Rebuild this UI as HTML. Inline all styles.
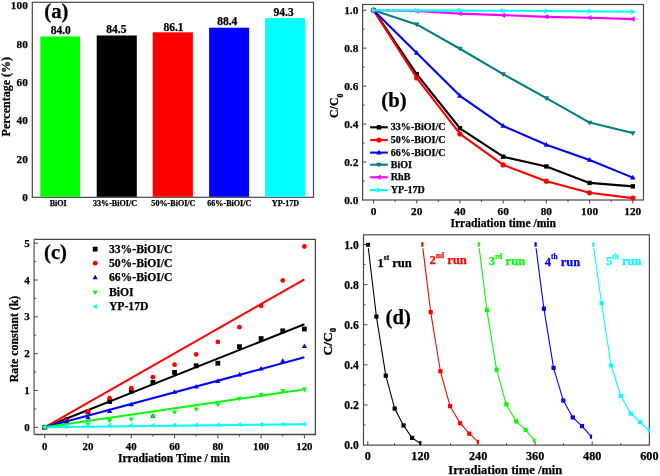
<!DOCTYPE html>
<html><head><meta charset="utf-8"><style>
html,body{margin:0;padding:0;background:#fff;}
body{width:660px;height:476px;overflow:hidden;}
svg{display:block;font-family:"Liberation Serif", serif;filter:blur(0.3px);}
text{stroke-width:0.25px;}
</style></head><body>
<svg width="660" height="476" viewBox="0 0 660 476">
<rect width="660" height="476" fill="#fff"/>
<rect x="32.3" y="2.3" width="281.2" height="195.0" fill="none" stroke="#484848" stroke-width="1.2"/>
<text x="27.80" y="9.40" font-size="11.3" text-anchor="end" fill="#000" stroke="#000" font-weight="bold" >100</text>
<text x="27.80" y="47.70" font-size="11.3" text-anchor="end" fill="#000" stroke="#000" font-weight="bold" >80</text>
<text x="27.80" y="86.00" font-size="11.3" text-anchor="end" fill="#000" stroke="#000" font-weight="bold" >60</text>
<text x="27.80" y="124.30" font-size="11.3" text-anchor="end" fill="#000" stroke="#000" font-weight="bold" >40</text>
<text x="27.80" y="162.60" font-size="11.3" text-anchor="end" fill="#000" stroke="#000" font-weight="bold" >20</text>
<text x="27.80" y="200.90" font-size="11.3" text-anchor="end" fill="#000" stroke="#000" font-weight="bold" >0</text>
<rect x="40.30" y="36.50" width="39.70" height="160.30" fill="#00ff00"/>
<text x="60.70" y="33.90" font-size="11.5" text-anchor="middle" fill="#000" stroke="#000" font-weight="bold" >84.0</text>
<text x="58.20" y="206.30" font-size="8.1" text-anchor="middle" fill="#000" stroke="#000" font-weight="bold" >BiOI</text>
<rect x="96.70" y="35.50" width="40.10" height="161.30" fill="#000000"/>
<text x="116.40" y="33.00" font-size="11.5" text-anchor="middle" fill="#000" stroke="#000" font-weight="bold" >84.5</text>
<text x="115.00" y="206.30" font-size="8.1" text-anchor="middle" fill="#000" stroke="#000" font-weight="bold" >33%-BiOI/C</text>
<rect x="152.70" y="32.30" width="40.20" height="164.50" fill="#ff0000"/>
<text x="173.50" y="30.50" font-size="11.5" text-anchor="middle" fill="#000" stroke="#000" font-weight="bold" >86.1</text>
<text x="173.40" y="206.30" font-size="8.1" text-anchor="middle" fill="#000" stroke="#000" font-weight="bold" >50%-BiOI/C</text>
<rect x="209.10" y="27.70" width="40.00" height="169.10" fill="#0000ff"/>
<text x="227.30" y="25.40" font-size="11.5" text-anchor="middle" fill="#000" stroke="#000" font-weight="bold" >88.4</text>
<text x="229.30" y="206.30" font-size="8.1" text-anchor="middle" fill="#000" stroke="#000" font-weight="bold" >66%-BiOI/C</text>
<rect x="265.10" y="18.10" width="40.10" height="178.70" fill="#00ffff"/>
<text x="283.60" y="15.90" font-size="11.5" text-anchor="middle" fill="#000" stroke="#000" font-weight="bold" >94.3</text>
<text x="285.50" y="206.30" font-size="8.1" text-anchor="middle" fill="#000" stroke="#000" font-weight="bold" >YP-17D</text>
<text x="44.30" y="18.40" font-size="20.7" text-anchor="start" fill="#000" stroke="#000" font-weight="bold" >(a)</text>
<text transform="translate(9.8,96.7) rotate(-90)" font-size="12" text-anchor="middle" font-weight="bold" stroke="#000">Percentage (%)</text>
<rect x="362.6" y="4.5" width="280.9" height="195.5" fill="none" stroke="#484848" stroke-width="1.2"/>
<line x1="362.60" y1="181.02" x2="364.60" y2="181.02" stroke="#484848" stroke-width="1" />
<line x1="362.60" y1="162.04" x2="366.60" y2="162.04" stroke="#484848" stroke-width="1" />
<line x1="362.60" y1="143.06" x2="364.60" y2="143.06" stroke="#484848" stroke-width="1" />
<line x1="362.60" y1="124.08" x2="366.60" y2="124.08" stroke="#484848" stroke-width="1" />
<line x1="362.60" y1="105.10" x2="364.60" y2="105.10" stroke="#484848" stroke-width="1" />
<line x1="362.60" y1="86.12" x2="366.60" y2="86.12" stroke="#484848" stroke-width="1" />
<line x1="362.60" y1="67.14" x2="364.60" y2="67.14" stroke="#484848" stroke-width="1" />
<line x1="362.60" y1="48.16" x2="366.60" y2="48.16" stroke="#484848" stroke-width="1" />
<line x1="362.60" y1="29.18" x2="364.60" y2="29.18" stroke="#484848" stroke-width="1" />
<line x1="362.60" y1="10.20" x2="366.60" y2="10.20" stroke="#484848" stroke-width="1" />
<text x="358.40" y="203.80" font-size="11.4" text-anchor="end" fill="#000" stroke="#000" font-weight="bold" >0.0</text>
<text x="358.40" y="165.84" font-size="11.4" text-anchor="end" fill="#000" stroke="#000" font-weight="bold" >0.2</text>
<text x="358.40" y="127.88" font-size="11.4" text-anchor="end" fill="#000" stroke="#000" font-weight="bold" >0.4</text>
<text x="358.40" y="89.92" font-size="11.4" text-anchor="end" fill="#000" stroke="#000" font-weight="bold" >0.6</text>
<text x="358.40" y="51.96" font-size="11.4" text-anchor="end" fill="#000" stroke="#000" font-weight="bold" >0.8</text>
<text x="358.40" y="14.00" font-size="11.4" text-anchor="end" fill="#000" stroke="#000" font-weight="bold" >1.0</text>
<line x1="373.50" y1="200.00" x2="373.50" y2="203.50" stroke="#484848" stroke-width="1" />
<line x1="395.11" y1="200.00" x2="395.11" y2="202.00" stroke="#484848" stroke-width="1" />
<line x1="416.72" y1="200.00" x2="416.72" y2="203.50" stroke="#484848" stroke-width="1" />
<line x1="438.32" y1="200.00" x2="438.32" y2="202.00" stroke="#484848" stroke-width="1" />
<line x1="459.93" y1="200.00" x2="459.93" y2="203.50" stroke="#484848" stroke-width="1" />
<line x1="481.54" y1="200.00" x2="481.54" y2="202.00" stroke="#484848" stroke-width="1" />
<line x1="503.15" y1="200.00" x2="503.15" y2="203.50" stroke="#484848" stroke-width="1" />
<line x1="524.76" y1="200.00" x2="524.76" y2="202.00" stroke="#484848" stroke-width="1" />
<line x1="546.37" y1="200.00" x2="546.37" y2="203.50" stroke="#484848" stroke-width="1" />
<line x1="567.98" y1="200.00" x2="567.98" y2="202.00" stroke="#484848" stroke-width="1" />
<line x1="589.58" y1="200.00" x2="589.58" y2="203.50" stroke="#484848" stroke-width="1" />
<line x1="611.19" y1="200.00" x2="611.19" y2="202.00" stroke="#484848" stroke-width="1" />
<line x1="632.80" y1="200.00" x2="632.80" y2="203.50" stroke="#484848" stroke-width="1" />
<text x="373.50" y="215.00" font-size="11.3" text-anchor="middle" fill="#000" stroke="#000" font-weight="bold" >0</text>
<text x="416.72" y="215.00" font-size="11.3" text-anchor="middle" fill="#000" stroke="#000" font-weight="bold" >20</text>
<text x="459.93" y="215.00" font-size="11.3" text-anchor="middle" fill="#000" stroke="#000" font-weight="bold" >40</text>
<text x="503.15" y="215.00" font-size="11.3" text-anchor="middle" fill="#000" stroke="#000" font-weight="bold" >60</text>
<text x="546.37" y="215.00" font-size="11.3" text-anchor="middle" fill="#000" stroke="#000" font-weight="bold" >80</text>
<text x="589.58" y="215.00" font-size="11.3" text-anchor="middle" fill="#000" stroke="#000" font-weight="bold" >100</text>
<text x="632.80" y="215.00" font-size="11.3" text-anchor="middle" fill="#000" stroke="#000" font-weight="bold" >120</text>
<text x="503.20" y="227.20" font-size="11.6" text-anchor="middle" fill="#000" stroke="#000" font-weight="bold" >Irradiation time /min</text>
<text transform="translate(338.3,117.9) rotate(-90)" font-size="11.8" font-weight="bold" stroke="#000" style="stroke-width:0.3px" text-anchor="start">C/C<tspan font-size="7.8" dy="4.2">0</tspan></text>
<text x="381.30" y="107.20" font-size="20.7" text-anchor="start" fill="#000" stroke="#000" font-weight="bold" >(b)</text>
<polyline points="373.50,10.20 416.72,74.16 459.93,128.26 503.15,156.73 546.37,166.41 589.58,182.92 632.80,186.33" fill="none" stroke="#000000" stroke-width="2.1" stroke-linejoin="round" />
<rect x="371.30" y="8.00" width="4.40" height="4.40" fill="#000000"/>
<rect x="414.52" y="71.96" width="4.40" height="4.40" fill="#000000"/>
<rect x="457.73" y="126.06" width="4.40" height="4.40" fill="#000000"/>
<rect x="500.95" y="154.53" width="4.40" height="4.40" fill="#000000"/>
<rect x="544.17" y="164.21" width="4.40" height="4.40" fill="#000000"/>
<rect x="587.38" y="180.72" width="4.40" height="4.40" fill="#000000"/>
<rect x="630.60" y="184.13" width="4.40" height="4.40" fill="#000000"/>
<polyline points="373.50,10.20 416.72,77.96 459.93,133.95 503.15,164.89 546.37,181.21 589.58,192.79 632.80,198.10" fill="none" stroke="#ff0000" stroke-width="2.1" stroke-linejoin="round" />
<circle cx="373.50" cy="10.20" r="2.60" fill="#ff0000"/>
<circle cx="416.72" cy="77.96" r="2.60" fill="#ff0000"/>
<circle cx="459.93" cy="133.95" r="2.60" fill="#ff0000"/>
<circle cx="503.15" cy="164.89" r="2.60" fill="#ff0000"/>
<circle cx="546.37" cy="181.21" r="2.60" fill="#ff0000"/>
<circle cx="589.58" cy="192.79" r="2.60" fill="#ff0000"/>
<circle cx="632.80" cy="198.10" r="2.60" fill="#ff0000"/>
<polyline points="373.50,10.20 416.72,52.91 459.93,95.80 503.15,125.98 546.37,144.77 589.58,159.95 632.80,177.60" fill="none" stroke="#0000ff" stroke-width="2.1" stroke-linejoin="round" />
<polygon points="373.50,7.32 370.75,12.07 376.25,12.07" fill="#0000ff"/>
<polygon points="416.72,50.03 413.97,54.78 419.47,54.78" fill="#0000ff"/>
<polygon points="459.93,92.92 457.18,97.67 462.68,97.67" fill="#0000ff"/>
<polygon points="503.15,123.10 500.40,127.85 505.90,127.85" fill="#0000ff"/>
<polygon points="546.37,141.89 543.62,146.64 549.12,146.64" fill="#0000ff"/>
<polygon points="589.58,157.08 586.83,161.83 592.33,161.83" fill="#0000ff"/>
<polygon points="632.80,174.73 630.05,179.48 635.55,179.48" fill="#0000ff"/>
<polyline points="373.50,10.20 416.72,24.43 459.93,48.73 503.15,74.16 546.37,98.08 589.58,122.56 632.80,133.00" fill="none" stroke="#008080" stroke-width="2.1" stroke-linejoin="round" />
<polygon points="373.50,13.07 370.75,8.32 376.25,8.32" fill="#008080"/>
<polygon points="416.72,27.31 413.97,22.56 419.47,22.56" fill="#008080"/>
<polygon points="459.93,51.60 457.18,46.85 462.68,46.85" fill="#008080"/>
<polygon points="503.15,77.04 500.40,72.29 505.90,72.29" fill="#008080"/>
<polygon points="546.37,100.95 543.62,96.20 549.12,96.20" fill="#008080"/>
<polygon points="589.58,125.44 586.83,120.69 592.33,120.69" fill="#008080"/>
<polygon points="632.80,135.88 630.05,131.13 635.55,131.13" fill="#008080"/>
<polyline points="373.50,10.20 416.72,10.96 459.93,13.62 503.15,15.13 546.37,16.84 589.58,17.79 632.80,19.12" fill="none" stroke="#ff00ff" stroke-width="2.1" stroke-linejoin="round" />
<polygon points="370.62,10.20 375.38,7.45 375.38,12.95" fill="#ff00ff"/>
<polygon points="413.84,10.96 418.59,8.21 418.59,13.71" fill="#ff00ff"/>
<polygon points="457.06,13.62 461.81,10.87 461.81,16.37" fill="#ff00ff"/>
<polygon points="500.27,15.13 505.02,12.38 505.02,17.88" fill="#ff00ff"/>
<polygon points="543.49,16.84 548.24,14.09 548.24,19.59" fill="#ff00ff"/>
<polygon points="586.71,17.79 591.46,15.04 591.46,20.54" fill="#ff00ff"/>
<polygon points="629.92,19.12 634.67,16.37 634.67,21.87" fill="#ff00ff"/>
<polyline points="373.50,10.20 416.72,10.39 459.93,10.58 503.15,10.77 546.37,10.96 589.58,11.34 632.80,11.72" fill="none" stroke="#00ffff" stroke-width="2.1" stroke-linejoin="round" />
<polygon points="376.38,10.20 371.62,7.45 371.62,12.95" fill="#00ffff"/>
<polygon points="419.59,10.39 414.84,7.64 414.84,13.14" fill="#00ffff"/>
<polygon points="462.81,10.58 458.06,7.83 458.06,13.33" fill="#00ffff"/>
<polygon points="506.02,10.77 501.27,8.02 501.27,13.52" fill="#00ffff"/>
<polygon points="549.24,10.96 544.49,8.21 544.49,13.71" fill="#00ffff"/>
<polygon points="592.46,11.34 587.71,8.59 587.71,14.09" fill="#00ffff"/>
<polygon points="635.67,11.72 630.92,8.97 630.92,14.47" fill="#00ffff"/>
<line x1="370.10" y1="127.30" x2="387.80" y2="127.30" stroke="#000000" stroke-width="2.1" />
<rect x="376.70" y="125.10" width="4.40" height="4.40" fill="#000000"/>
<text x="390.80" y="130.30" font-size="10.05" text-anchor="start" fill="#000" stroke="#000" font-weight="bold" >33%-BiOI/C</text>
<line x1="370.10" y1="140.10" x2="387.80" y2="140.10" stroke="#ff0000" stroke-width="2.1" />
<circle cx="378.90" cy="140.10" r="2.60" fill="#ff0000"/>
<text x="390.80" y="143.10" font-size="10.05" text-anchor="start" fill="#000" stroke="#000" font-weight="bold" >50%-BiOI/C</text>
<line x1="370.10" y1="152.60" x2="387.80" y2="152.60" stroke="#0000ff" stroke-width="2.1" />
<polygon points="378.90,149.72 376.15,154.47 381.65,154.47" fill="#0000ff"/>
<text x="390.80" y="155.60" font-size="10.05" text-anchor="start" fill="#000" stroke="#000" font-weight="bold" >66%-BiOI/C</text>
<line x1="370.10" y1="164.70" x2="387.80" y2="164.70" stroke="#008080" stroke-width="2.1" />
<polygon points="378.90,167.57 376.15,162.82 381.65,162.82" fill="#008080"/>
<text x="390.80" y="167.70" font-size="10.05" text-anchor="start" fill="#000" stroke="#000" font-weight="bold" >BiOI</text>
<line x1="370.10" y1="177.30" x2="387.80" y2="177.30" stroke="#ff00ff" stroke-width="2.1" />
<polygon points="376.02,177.30 380.77,174.55 380.77,180.05" fill="#ff00ff"/>
<text x="390.80" y="180.30" font-size="10.05" text-anchor="start" fill="#000" stroke="#000" font-weight="bold" >RhB</text>
<line x1="370.10" y1="190.10" x2="387.80" y2="190.10" stroke="#00ffff" stroke-width="2.1" />
<polygon points="381.77,190.10 377.02,187.35 377.02,192.85" fill="#00ffff"/>
<text x="390.80" y="193.10" font-size="10.05" text-anchor="start" fill="#000" stroke="#000" font-weight="bold" >YP-17D</text>
<path d="M34.1,239.4 H315.4 V434.5 H34.1" fill="none" stroke="#484848" stroke-width="1.3"/>
<line x1="34.10" y1="238.80" x2="34.10" y2="435.10" stroke="#8a8a8a" stroke-width="1.8" />
<line x1="34.10" y1="427.30" x2="37.90" y2="427.30" stroke="#484848" stroke-width="1" />
<line x1="34.10" y1="408.89" x2="36.10" y2="408.89" stroke="#484848" stroke-width="1" />
<line x1="34.10" y1="390.48" x2="37.90" y2="390.48" stroke="#484848" stroke-width="1" />
<line x1="34.10" y1="372.07" x2="36.10" y2="372.07" stroke="#484848" stroke-width="1" />
<line x1="34.10" y1="353.66" x2="37.90" y2="353.66" stroke="#484848" stroke-width="1" />
<line x1="34.10" y1="335.25" x2="36.10" y2="335.25" stroke="#484848" stroke-width="1" />
<line x1="34.10" y1="316.84" x2="37.90" y2="316.84" stroke="#484848" stroke-width="1" />
<line x1="34.10" y1="298.43" x2="36.10" y2="298.43" stroke="#484848" stroke-width="1" />
<line x1="34.10" y1="280.02" x2="37.90" y2="280.02" stroke="#484848" stroke-width="1" />
<line x1="34.10" y1="261.61" x2="36.10" y2="261.61" stroke="#484848" stroke-width="1" />
<line x1="34.10" y1="243.20" x2="37.90" y2="243.20" stroke="#484848" stroke-width="1" />
<text x="29.70" y="430.80" font-size="11.0" text-anchor="end" fill="#000" stroke="#000" font-weight="bold" >0</text>
<text x="29.70" y="393.98" font-size="11.0" text-anchor="end" fill="#000" stroke="#000" font-weight="bold" >1</text>
<text x="29.70" y="357.16" font-size="11.0" text-anchor="end" fill="#000" stroke="#000" font-weight="bold" >2</text>
<text x="29.70" y="320.34" font-size="11.0" text-anchor="end" fill="#000" stroke="#000" font-weight="bold" >3</text>
<text x="29.70" y="283.52" font-size="11.0" text-anchor="end" fill="#000" stroke="#000" font-weight="bold" >4</text>
<text x="29.70" y="246.70" font-size="11.0" text-anchor="end" fill="#000" stroke="#000" font-weight="bold" >5</text>
<line x1="44.70" y1="434.50" x2="44.70" y2="438.30" stroke="#484848" stroke-width="1" />
<line x1="66.34" y1="434.50" x2="66.34" y2="436.50" stroke="#484848" stroke-width="1" />
<line x1="87.98" y1="434.50" x2="87.98" y2="438.30" stroke="#484848" stroke-width="1" />
<line x1="109.62" y1="434.50" x2="109.62" y2="436.50" stroke="#484848" stroke-width="1" />
<line x1="131.27" y1="434.50" x2="131.27" y2="438.30" stroke="#484848" stroke-width="1" />
<line x1="152.91" y1="434.50" x2="152.91" y2="436.50" stroke="#484848" stroke-width="1" />
<line x1="174.55" y1="434.50" x2="174.55" y2="438.30" stroke="#484848" stroke-width="1" />
<line x1="196.19" y1="434.50" x2="196.19" y2="436.50" stroke="#484848" stroke-width="1" />
<line x1="217.83" y1="434.50" x2="217.83" y2="438.30" stroke="#484848" stroke-width="1" />
<line x1="239.47" y1="434.50" x2="239.47" y2="436.50" stroke="#484848" stroke-width="1" />
<line x1="261.12" y1="434.50" x2="261.12" y2="438.30" stroke="#484848" stroke-width="1" />
<line x1="282.76" y1="434.50" x2="282.76" y2="436.50" stroke="#484848" stroke-width="1" />
<line x1="304.40" y1="434.50" x2="304.40" y2="438.30" stroke="#484848" stroke-width="1" />
<text x="44.70" y="450.20" font-size="10.8" text-anchor="middle" fill="#000" stroke="#000" font-weight="bold" >0</text>
<text x="87.98" y="450.20" font-size="10.8" text-anchor="middle" fill="#000" stroke="#000" font-weight="bold" >20</text>
<text x="131.27" y="450.20" font-size="10.8" text-anchor="middle" fill="#000" stroke="#000" font-weight="bold" >40</text>
<text x="174.55" y="450.20" font-size="10.8" text-anchor="middle" fill="#000" stroke="#000" font-weight="bold" >60</text>
<text x="217.83" y="450.20" font-size="10.8" text-anchor="middle" fill="#000" stroke="#000" font-weight="bold" >80</text>
<text x="261.12" y="450.20" font-size="10.8" text-anchor="middle" fill="#000" stroke="#000" font-weight="bold" >100</text>
<text x="304.40" y="450.20" font-size="10.8" text-anchor="middle" fill="#000" stroke="#000" font-weight="bold" >120</text>
<text x="173.90" y="461.80" font-size="11.6" text-anchor="middle" fill="#000" stroke="#000" font-weight="bold" >Irradiation Time / min</text>
<text transform="translate(18.0,339.0) rotate(-90)" font-size="11.8" text-anchor="middle" font-weight="bold" stroke="#000">Rate constant (k)</text>
<text x="44.00" y="259.40" font-size="20.7" text-anchor="start" fill="#000" stroke="#000" font-weight="bold" >(c)</text>
<line x1="44.70" y1="427.30" x2="304.40" y2="324.20" stroke="#000000" stroke-width="2" />
<line x1="44.70" y1="427.30" x2="304.40" y2="279.28" stroke="#ff0000" stroke-width="2" />
<line x1="44.70" y1="427.30" x2="304.40" y2="357.34" stroke="#0000ff" stroke-width="2" />
<line x1="44.70" y1="427.30" x2="304.40" y2="389.38" stroke="#00ff00" stroke-width="2" />
<line x1="44.70" y1="427.30" x2="304.40" y2="424.17" stroke="#00ffff" stroke-width="2" />
<rect x="42.30" y="424.90" width="4.80" height="4.80" fill="#000000"/>
<rect x="63.94" y="417.54" width="4.80" height="4.80" fill="#000000"/>
<rect x="85.58" y="409.44" width="4.80" height="4.80" fill="#000000"/>
<rect x="107.22" y="399.13" width="4.80" height="4.80" fill="#000000"/>
<rect x="128.87" y="388.82" width="4.80" height="4.80" fill="#000000"/>
<rect x="150.51" y="379.98" width="4.80" height="4.80" fill="#000000"/>
<rect x="172.15" y="370.04" width="4.80" height="4.80" fill="#000000"/>
<rect x="193.79" y="363.41" width="4.80" height="4.80" fill="#000000"/>
<rect x="215.43" y="360.83" width="4.80" height="4.80" fill="#000000"/>
<rect x="237.07" y="344.26" width="4.80" height="4.80" fill="#000000"/>
<rect x="258.72" y="336.16" width="4.80" height="4.80" fill="#000000"/>
<rect x="280.36" y="328.43" width="4.80" height="4.80" fill="#000000"/>
<rect x="302.00" y="326.59" width="4.80" height="4.80" fill="#000000"/>
<circle cx="44.70" cy="427.30" r="2.40" fill="#ff0000"/>
<circle cx="66.34" cy="420.67" r="2.40" fill="#ff0000"/>
<circle cx="87.98" cy="411.47" r="2.40" fill="#ff0000"/>
<circle cx="109.62" cy="398.21" r="2.40" fill="#ff0000"/>
<circle cx="131.27" cy="388.27" r="2.40" fill="#ff0000"/>
<circle cx="152.91" cy="377.22" r="2.40" fill="#ff0000"/>
<circle cx="174.55" cy="364.71" r="2.40" fill="#ff0000"/>
<circle cx="196.19" cy="354.40" r="2.40" fill="#ff0000"/>
<circle cx="217.83" cy="341.88" r="2.40" fill="#ff0000"/>
<circle cx="239.47" cy="327.15" r="2.40" fill="#ff0000"/>
<circle cx="261.12" cy="305.79" r="2.40" fill="#ff0000"/>
<circle cx="282.76" cy="280.39" r="2.40" fill="#ff0000"/>
<circle cx="304.40" cy="246.51" r="2.40" fill="#ff0000"/>
<polygon points="44.70,424.54 42.06,429.10 47.34,429.10" fill="#0000ff"/>
<polygon points="66.34,418.65 63.70,423.21 68.98,423.21" fill="#0000ff"/>
<polygon points="87.98,414.60 85.34,419.16 90.62,419.16" fill="#0000ff"/>
<polygon points="109.62,408.34 106.98,412.90 112.27,412.90" fill="#0000ff"/>
<polygon points="131.27,401.71 128.63,406.27 133.91,406.27" fill="#0000ff"/>
<polygon points="152.91,413.13 150.27,417.69 155.55,417.69" fill="#0000ff"/>
<polygon points="174.55,389.19 171.91,393.75 177.19,393.75" fill="#0000ff"/>
<polygon points="196.19,384.04 193.55,388.60 198.83,388.60" fill="#0000ff"/>
<polygon points="217.83,378.52 215.19,383.08 220.47,383.08" fill="#0000ff"/>
<polygon points="239.47,371.89 236.83,376.45 242.11,376.45" fill="#0000ff"/>
<polygon points="261.12,366.00 258.48,370.56 263.76,370.56" fill="#0000ff"/>
<polygon points="282.76,358.26 280.12,362.82 285.40,362.82" fill="#0000ff"/>
<polygon points="304.40,343.54 301.76,348.10 307.04,348.10" fill="#0000ff"/>
<polygon points="44.70,430.06 42.06,425.50 47.34,425.50" fill="#00ff00"/>
<polygon points="66.34,429.32 63.70,424.76 68.98,424.76" fill="#00ff00"/>
<polygon points="87.98,427.11 85.34,422.55 90.62,422.55" fill="#00ff00"/>
<polygon points="109.62,423.43 106.98,418.87 112.27,418.87" fill="#00ff00"/>
<polygon points="131.27,421.96 128.63,417.40 133.91,417.40" fill="#00ff00"/>
<polygon points="152.91,419.01 150.27,414.45 155.55,414.45" fill="#00ff00"/>
<polygon points="174.55,414.96 171.91,410.40 177.19,410.40" fill="#00ff00"/>
<polygon points="196.19,412.02 193.55,407.46 198.83,407.46" fill="#00ff00"/>
<polygon points="217.83,407.23 215.19,402.67 220.47,402.67" fill="#00ff00"/>
<polygon points="239.47,401.34 236.83,396.78 242.11,396.78" fill="#00ff00"/>
<polygon points="261.12,397.66 258.48,393.10 263.76,393.10" fill="#00ff00"/>
<polygon points="282.76,393.61 280.12,389.05 285.40,389.05" fill="#00ff00"/>
<polygon points="304.40,392.14 301.76,387.58 307.04,387.58" fill="#00ff00"/>
<polygon points="41.94,427.30 46.50,424.66 46.50,429.94" fill="#00ffff"/>
<polygon points="63.58,425.83 68.14,423.19 68.14,428.47" fill="#00ffff"/>
<polygon points="85.22,425.46 89.78,422.82 89.78,428.10" fill="#00ffff"/>
<polygon points="106.86,425.46 111.42,422.82 111.42,428.10" fill="#00ffff"/>
<polygon points="128.51,425.46 133.07,422.82 133.07,428.10" fill="#00ffff"/>
<polygon points="150.15,425.27 154.71,422.63 154.71,427.91" fill="#00ffff"/>
<polygon points="171.79,425.09 176.35,422.45 176.35,427.73" fill="#00ffff"/>
<polygon points="193.43,425.09 197.99,422.45 197.99,427.73" fill="#00ffff"/>
<polygon points="215.07,424.91 219.63,422.27 219.63,427.55" fill="#00ffff"/>
<polygon points="236.71,424.72 241.27,422.08 241.27,427.36" fill="#00ffff"/>
<polygon points="258.36,424.54 262.92,421.90 262.92,427.18" fill="#00ffff"/>
<polygon points="280.00,424.35 284.56,421.71 284.56,426.99" fill="#00ffff"/>
<polygon points="301.64,424.17 306.20,421.53 306.20,426.81" fill="#00ffff"/>
<rect x="92.80" y="246.70" width="4.80" height="4.80" fill="#000000"/>
<text x="108.90" y="252.90" font-size="11.7" text-anchor="start" fill="#000" stroke="#000" font-weight="bold" >33%-BiOI/C</text>
<circle cx="95.20" cy="263.20" r="2.40" fill="#ff0000"/>
<text x="108.90" y="267.00" font-size="11.7" text-anchor="start" fill="#000" stroke="#000" font-weight="bold" >50%-BiOI/C</text>
<polygon points="95.20,274.74 92.56,279.30 97.84,279.30" fill="#0000ff"/>
<text x="108.90" y="281.30" font-size="11.7" text-anchor="start" fill="#000" stroke="#000" font-weight="bold" >66%-BiOI/C</text>
<polygon points="95.20,295.06 92.56,290.50 97.84,290.50" fill="#00ff00"/>
<text x="108.90" y="296.10" font-size="11.7" text-anchor="start" fill="#000" stroke="#000" font-weight="bold" >BiOI</text>
<polygon points="92.44,306.60 97.00,303.96 97.00,309.24" fill="#00ffff"/>
<text x="108.90" y="310.40" font-size="11.7" text-anchor="start" fill="#000" stroke="#000" font-weight="bold" >YP-17D</text>
<rect x="363.5" y="234.8" width="285.9" height="210.3" fill="none" stroke="#484848" stroke-width="1.2"/>
<line x1="363.50" y1="425.04" x2="365.50" y2="425.04" stroke="#484848" stroke-width="1" />
<line x1="363.50" y1="404.98" x2="367.50" y2="404.98" stroke="#484848" stroke-width="1" />
<line x1="363.50" y1="384.92" x2="365.50" y2="384.92" stroke="#484848" stroke-width="1" />
<line x1="363.50" y1="364.86" x2="367.50" y2="364.86" stroke="#484848" stroke-width="1" />
<line x1="363.50" y1="344.80" x2="365.50" y2="344.80" stroke="#484848" stroke-width="1" />
<line x1="363.50" y1="324.74" x2="367.50" y2="324.74" stroke="#484848" stroke-width="1" />
<line x1="363.50" y1="304.68" x2="365.50" y2="304.68" stroke="#484848" stroke-width="1" />
<line x1="363.50" y1="284.62" x2="367.50" y2="284.62" stroke="#484848" stroke-width="1" />
<line x1="363.50" y1="264.56" x2="365.50" y2="264.56" stroke="#484848" stroke-width="1" />
<line x1="363.50" y1="244.50" x2="367.50" y2="244.50" stroke="#484848" stroke-width="1" />
<text x="358.80" y="449.10" font-size="11.6" text-anchor="end" fill="#000" stroke="#000" font-weight="bold" >0.0</text>
<text x="358.80" y="408.98" font-size="11.6" text-anchor="end" fill="#000" stroke="#000" font-weight="bold" >0.2</text>
<text x="358.80" y="368.86" font-size="11.6" text-anchor="end" fill="#000" stroke="#000" font-weight="bold" >0.4</text>
<text x="358.80" y="328.74" font-size="11.6" text-anchor="end" fill="#000" stroke="#000" font-weight="bold" >0.6</text>
<text x="358.80" y="288.62" font-size="11.6" text-anchor="end" fill="#000" stroke="#000" font-weight="bold" >0.8</text>
<text x="358.80" y="248.50" font-size="11.6" text-anchor="end" fill="#000" stroke="#000" font-weight="bold" >1.0</text>
<line x1="367.80" y1="445.10" x2="367.80" y2="441.30" stroke="#484848" stroke-width="1" />
<line x1="420.50" y1="445.10" x2="420.50" y2="441.30" stroke="#484848" stroke-width="1" />
<line x1="478.10" y1="445.10" x2="478.10" y2="441.30" stroke="#484848" stroke-width="1" />
<line x1="535.10" y1="445.10" x2="535.10" y2="441.30" stroke="#484848" stroke-width="1" />
<line x1="592.20" y1="445.10" x2="592.20" y2="441.30" stroke="#484848" stroke-width="1" />
<line x1="394.50" y1="445.10" x2="394.50" y2="443.10" stroke="#484848" stroke-width="1" />
<line x1="450.40" y1="445.10" x2="450.40" y2="443.10" stroke="#484848" stroke-width="1" />
<line x1="506.50" y1="445.10" x2="506.50" y2="443.10" stroke="#484848" stroke-width="1" />
<line x1="563.60" y1="445.10" x2="563.60" y2="443.10" stroke="#484848" stroke-width="1" />
<line x1="620.80" y1="445.10" x2="620.80" y2="443.10" stroke="#484848" stroke-width="1" />
<text x="367.80" y="460.40" font-size="12.2" text-anchor="middle" fill="#000" stroke="#000" font-weight="bold" >0</text>
<text x="420.50" y="460.40" font-size="12.2" text-anchor="middle" fill="#000" stroke="#000" font-weight="bold" >120</text>
<text x="478.10" y="460.40" font-size="12.2" text-anchor="middle" fill="#000" stroke="#000" font-weight="bold" >240</text>
<text x="535.10" y="460.40" font-size="12.2" text-anchor="middle" fill="#000" stroke="#000" font-weight="bold" >360</text>
<text x="592.20" y="460.40" font-size="12.2" text-anchor="middle" fill="#000" stroke="#000" font-weight="bold" >480</text>
<text x="649.40" y="460.40" font-size="12.2" text-anchor="middle" fill="#000" stroke="#000" font-weight="bold" >600</text>
<text x="505.30" y="473.70" font-size="12.5" text-anchor="middle" fill="#000" stroke="#000" font-weight="bold" >Irradiation time /min</text>
<text transform="translate(331.9,355.6) rotate(-90)" font-size="13.5" font-weight="bold" stroke="#000" style="stroke-width:0.35px" text-anchor="start">C/C<tspan font-size="8.6" dy="4.0">0</tspan></text>
<text x="385.50" y="324.40" font-size="20.7" text-anchor="start" fill="#000" stroke="#000" font-weight="bold" >(d)</text>
<polyline points="368.34,248.20 376.40,316.52 385.80,375.69 394.70,408.59 403.50,425.44 412.10,437.88 420.50,443.50" fill="none" stroke="#000000" stroke-width="1.1" stroke-linejoin="round" />
<rect x="365.90" y="242.80" width="4.00" height="4.00" fill="#000000"/>
<rect x="374.30" y="314.42" width="4.20" height="4.20" fill="#000000"/>
<rect x="383.70" y="373.59" width="4.20" height="4.20" fill="#000000"/>
<rect x="392.60" y="406.49" width="4.20" height="4.20" fill="#000000"/>
<rect x="401.40" y="423.34" width="4.20" height="4.20" fill="#000000"/>
<rect x="410.00" y="435.78" width="4.20" height="4.20" fill="#000000"/>
<rect x="419.20" y="441.00" width="2.20" height="4.20" fill="#000000"/>
<polyline points="422.85,248.20 430.70,312.10 440.40,371.28 450.10,406.18 460.10,423.23 469.30,433.67 478.10,441.89" fill="none" stroke="#ff0000" stroke-width="1.1" stroke-linejoin="round" />
<rect x="421.30" y="242.20" width="2.20" height="4.50" fill="#ff0000"/>
<rect x="428.60" y="310.00" width="4.20" height="4.20" fill="#ff0000"/>
<rect x="438.30" y="369.18" width="4.20" height="4.20" fill="#ff0000"/>
<rect x="448.00" y="404.08" width="4.20" height="4.20" fill="#ff0000"/>
<rect x="458.00" y="421.13" width="4.20" height="4.20" fill="#ff0000"/>
<rect x="467.20" y="431.57" width="4.20" height="4.20" fill="#ff0000"/>
<rect x="476.80" y="439.79" width="2.20" height="4.20" fill="#ff0000"/>
<polyline points="479.26,248.20 486.90,310.30 496.60,369.67 506.30,404.38 516.20,421.43 525.60,429.85 534.60,440.69" fill="none" stroke="#00ff00" stroke-width="1.1" stroke-linejoin="round" />
<rect x="477.70" y="242.20" width="2.20" height="4.50" fill="#00ff00"/>
<rect x="484.80" y="308.20" width="4.20" height="4.20" fill="#00ff00"/>
<rect x="494.50" y="367.57" width="4.20" height="4.20" fill="#00ff00"/>
<rect x="504.20" y="402.28" width="4.20" height="4.20" fill="#00ff00"/>
<rect x="514.10" y="419.33" width="4.20" height="4.20" fill="#00ff00"/>
<rect x="523.50" y="427.75" width="4.20" height="4.20" fill="#00ff00"/>
<rect x="533.30" y="438.59" width="2.20" height="4.20" fill="#00ff00"/>
<polyline points="536.08,248.20 543.90,308.69 553.60,367.87 563.30,400.57 572.80,417.42 582.00,426.04 591.20,436.67" fill="none" stroke="#0000ff" stroke-width="1.1" stroke-linejoin="round" />
<rect x="534.50" y="242.20" width="2.20" height="4.50" fill="#0000ff"/>
<rect x="541.80" y="306.59" width="4.20" height="4.20" fill="#0000ff"/>
<rect x="551.50" y="365.77" width="4.20" height="4.20" fill="#0000ff"/>
<rect x="561.20" y="398.47" width="4.20" height="4.20" fill="#0000ff"/>
<rect x="570.70" y="415.32" width="4.20" height="4.20" fill="#0000ff"/>
<rect x="579.90" y="423.94" width="4.20" height="4.20" fill="#0000ff"/>
<rect x="589.90" y="434.57" width="2.20" height="4.20" fill="#0000ff"/>
<polyline points="593.73,248.20 601.60,303.28 611.10,365.46 620.80,395.95 630.80,413.61 640.00,422.03 649.20,430.66" fill="none" stroke="#00ffff" stroke-width="1.1" stroke-linejoin="round" />
<rect x="592.10" y="242.20" width="2.20" height="4.50" fill="#00ffff"/>
<rect x="599.50" y="301.18" width="4.20" height="4.20" fill="#00ffff"/>
<rect x="609.00" y="363.36" width="4.20" height="4.20" fill="#00ffff"/>
<rect x="618.70" y="393.85" width="4.20" height="4.20" fill="#00ffff"/>
<rect x="628.70" y="411.51" width="4.20" height="4.20" fill="#00ffff"/>
<rect x="637.90" y="419.93" width="4.20" height="4.20" fill="#00ffff"/>
<rect x="647.90" y="428.56" width="2.20" height="4.20" fill="#00ffff"/>
<text x="377.5" y="266.6" font-size="12.6" font-weight="bold" fill="#000000" stroke="#000000">1<tspan font-size="7.3" dy="-6.3">st</tspan><tspan dy="6.3"> run</tspan></text>
<text x="429.6" y="263.8" font-size="12.6" font-weight="bold" fill="#ff0000" stroke="#ff0000">2<tspan font-size="7.3" dy="-6.3">nd</tspan><tspan dy="6.3"> run</tspan></text>
<text x="488.8" y="265.0" font-size="12.6" font-weight="bold" fill="#00ff00" stroke="#00ff00">3<tspan font-size="7.3" dy="-6.3">rd</tspan><tspan dy="6.3"> run</tspan></text>
<text x="544.8" y="265.5" font-size="12.6" font-weight="bold" fill="#0000ff" stroke="#0000ff">4<tspan font-size="7.3" dy="-6.3">th</tspan><tspan dy="6.3"> run</tspan></text>
<text x="606.0" y="265.0" font-size="12.6" font-weight="bold" fill="#00ffff" stroke="#00ffff">5<tspan font-size="7.3" dy="-6.3">th</tspan><tspan dy="6.3"> run</tspan></text>
</svg>
</body></html>
